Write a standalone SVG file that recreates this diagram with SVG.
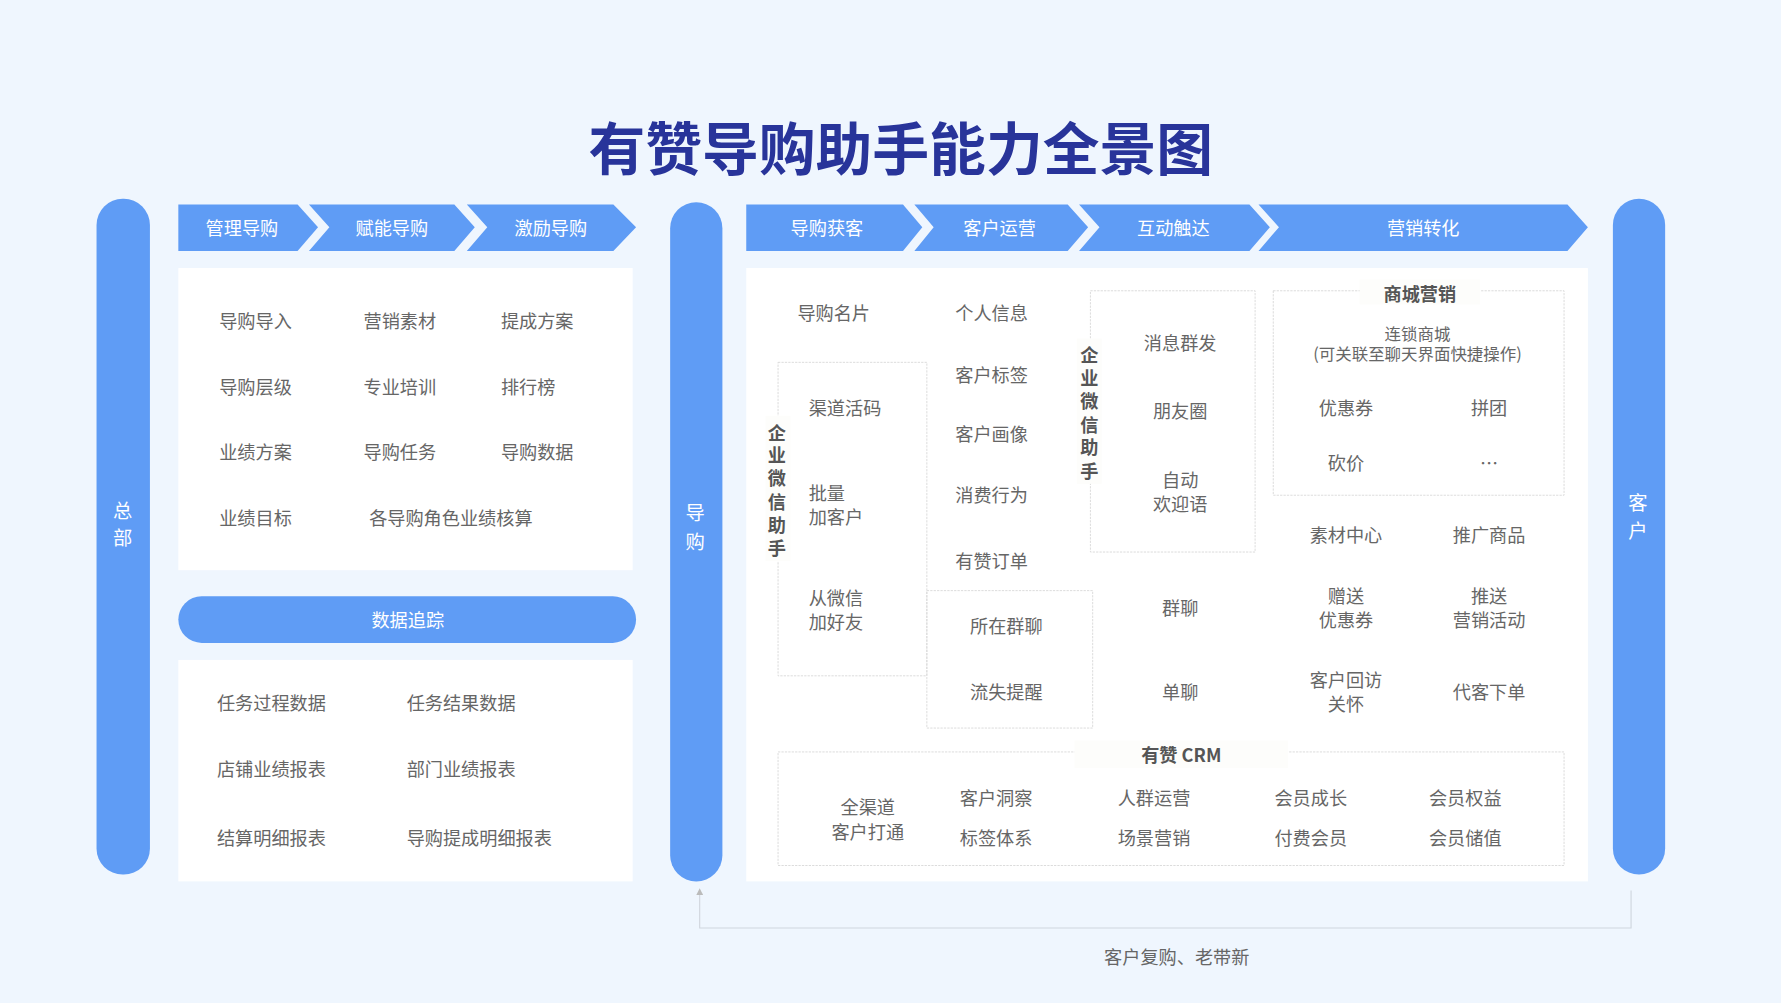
<svg xmlns="http://www.w3.org/2000/svg" width="1781" height="1003" viewBox="0 0 1781 1003">
<style>
text{font-family:"Noto Sans CJK SC","Liberation Sans",sans-serif;dominant-baseline:central;text-anchor:middle}
.t{font-size:16px;fill:#666}
.s{text-anchor:start}
.w{font-size:16px;fill:#fff}
.v{font-size:17px;fill:#fff}
.b{font-size:16px;fill:#555;font-weight:bold}
.bar{fill:#5f9cf5}
.box{fill:#fff}
.dash{fill:none;stroke:#d8d8d8;stroke-width:0.8;stroke-dasharray:2 1}
.lbl{fill:#fdfdfb}
</style>
<defs>
<marker id="ah" markerWidth="6" markerHeight="6" refX="3" refY="3" orient="auto"><path d="M0,0 L6,3 L0,6 z" fill="#bbb"/></marker>
</defs>
<rect width="1781" height="1003" fill="#eff6fe"/>
<g transform="scale(1.13584)">
<text x="793" y="128" style="font-size:50px;font-weight:bold;fill:#28349a">有赞导购助手能力全景图</text>

<g id="hq"><rect class="bar" x="85" y="175" width="47" height="595" rx="23"/><text class="v" x="108" y="449">总</text><text class="v" x="108" y="473">部</text></g>

<g id="left-chevrons">
<path class="bar" d="M157,180 H262 L280,200 L262,221 H157 Z"/>
<path class="bar" d="M272,180 H400 L418,200 L400,221 H272 L290,200 Z"/>
<path class="bar" d="M411,180 H540 L560,200 L540,221 H411 L429,200 Z"/>
<text class="w" x="213" y="200">管理导购</text><text class="w" x="345" y="200">赋能导购</text><text class="w" x="485" y="200">激励导购</text>
</g>
<g id="left-box1"><rect class="box" x="157" y="236" width="400" height="266"/>
<text class="t s" x="193" y="282">导购导入</text><text class="t s" x="320" y="282">营销素材</text><text class="t s" x="441" y="282">提成方案</text>
<text class="t s" x="193" y="340">导购层级</text><text class="t s" x="320" y="340">专业培训</text><text class="t s" x="441" y="340">排行榜</text>
<text class="t s" x="193" y="397">业绩方案</text><text class="t s" x="320" y="397">导购任务</text><text class="t s" x="441" y="397">导购数据</text>
<text class="t s" x="193" y="455">业绩目标</text><text class="t s" x="325" y="455">各导购角色业绩核算</text>
</g>
<g id="data-track"><rect class="bar" x="157" y="525" width="403" height="41" rx="20.5"/><text class="w" x="359" y="545">数据追踪</text></g>
<g id="left-box2"><rect class="box" x="157" y="581" width="400" height="195"/>
<text class="t s" x="191" y="618">任务过程数据</text><text class="t s" x="358" y="618">任务结果数据</text>
<text class="t s" x="191" y="676">店铺业绩报表</text><text class="t s" x="358" y="676">部门业绩报表</text>
<text class="t s" x="191" y="737">结算明细报表</text><text class="t s" x="358" y="737">导购提成明细报表</text>
</g>

<g id="guide"><rect class="bar" x="590" y="178" width="46" height="598" rx="23"/><text class="v" x="612" y="451">导</text><text class="v" x="612" y="476">购</text></g>

<g id="right-chevrons">
<path class="bar" d="M657,180 H795 L812,200 L795,221 H657 Z"/>
<path class="bar" d="M805,180 H940 L958,200 L940,221 H805 L822,200 Z"/>
<path class="bar" d="M950,180 H1100 L1118,200 L1100,221 H950 L968,200 Z"/>
<path class="bar" d="M1108,180 H1380 L1398,200 L1380,221 H1108 L1126,200 Z"/>
<text class="w" x="728" y="200">导购获客</text><text class="w" x="880" y="200">客户运营</text><text class="w" x="1033" y="200">互动触达</text><text class="w" x="1253" y="200">营销转化</text>
</g>
<rect class="box" x="657" y="236" width="741" height="540"/>

<g id="acquire">
<rect class="dash" x="685" y="319" width="131" height="276"/>
<rect class="lbl" x="674" y="366" width="22" height="128"/>
<text class="b" x="684" y="380">企</text><text class="b" x="684" y="400">业</text><text class="b" x="684" y="420">微</text><text class="b" x="684" y="441">信</text><text class="b" x="684" y="461">助</text><text class="b" x="684" y="482">手</text>
<text class="t" x="734" y="275">导购名片</text>
<text class="t s" x="712" y="358">渠道活码</text>
<text class="t s" x="712" y="433">批量</text><text class="t s" x="712" y="454">加客户</text>
<text class="t s" x="712" y="526">从微信</text><text class="t s" x="712" y="547">加好友</text>
</g>
<g id="operate">
<rect class="dash" x="816" y="520" width="146" height="121"/>
<text class="t" x="873" y="275">个人信息</text><text class="t" x="873" y="329">客户标签</text><text class="t" x="873" y="381">客户画像</text><text class="t" x="873" y="435">消费行为</text><text class="t" x="873" y="493">有赞订单</text>
<text class="t" x="886" y="550">所在群聊</text><text class="t" x="886" y="608">流失提醒</text>
</g>
<g id="reach">
<rect class="dash" x="960" y="256" width="145" height="230"/>
<rect class="lbl" x="948" y="298" width="22" height="128"/>
<text class="b" x="959" y="312">企</text><text class="b" x="959" y="332">业</text><text class="b" x="959" y="352">微</text><text class="b" x="959" y="373">信</text><text class="b" x="959" y="393">助</text><text class="b" x="959" y="414">手</text>
<text class="t" x="1039" y="301">消息群发</text><text class="t" x="1039" y="361">朋友圈</text><text class="t" x="1039" y="422">自动</text><text class="t" x="1039" y="443">欢迎语</text>
<text class="t" x="1039" y="534">群聊</text><text class="t" x="1039" y="608">单聊</text>
</g>
<g id="mall">
<rect class="dash" x="1121" y="256" width="256" height="180"/>
<rect class="lbl" x="1197" y="246" width="106" height="22"/>
<text class="b" x="1250" y="258">商城营销</text>
<text class="t" x="1248" y="293" style="font-size:14.5px">连锁商城</text><text class="t" x="1248" y="311" style="font-size:14.5px">(可关联至聊天界面快捷操作)</text>
<text class="t" x="1185" y="358">优惠券</text><text class="t" x="1311" y="358">拼团</text>
<text class="t" x="1185" y="407">砍价</text><text class="t" x="1311" y="407">…</text>
</g>
<g id="convert">
<text class="t" x="1185" y="470">素材中心</text><text class="t" x="1311" y="470">推广商品</text>
<text class="t" x="1185" y="524">赠送</text><text class="t" x="1185" y="545">优惠券</text>
<text class="t" x="1311" y="524">推送</text><text class="t" x="1311" y="545">营销活动</text>
<text class="t" x="1185" y="598">客户回访</text><text class="t" x="1185" y="619">关怀</text>
<text class="t" x="1311" y="608">代客下单</text>
</g>
<g id="crm">
<rect class="dash" x="685" y="662" width="692" height="100"/>
<rect class="lbl" x="946" y="652" width="188" height="24"/>
<text class="b" x="1040" y="664">有赞 CRM</text>
<text class="t" x="764" y="710">全渠道</text><text class="t" x="764" y="732">客户打通</text>
<text class="t" x="877" y="702">客户洞察</text><text class="t" x="877" y="737">标签体系</text>
<text class="t" x="1016" y="702">人群运营</text><text class="t" x="1016" y="737">场景营销</text>
<text class="t" x="1154" y="702">会员成长</text><text class="t" x="1154" y="737">付费会员</text>
<text class="t" x="1290" y="702">会员权益</text><text class="t" x="1290" y="737">会员储值</text>
</g>

<g id="customer"><rect class="bar" x="1420" y="175" width="46" height="595" rx="23"/><text class="v" x="1442" y="442">客</text><text class="v" x="1442" y="467">户</text></g>

<g id="connectors">
<path d="M1436,784 V817 H616 V785" fill="none" stroke="#d0d6de" stroke-width="1" marker-end="url(#ah)"/>
</g>
<text class="t" x="1036" y="842">客户复购、老带新</text>
</g>
</svg>
